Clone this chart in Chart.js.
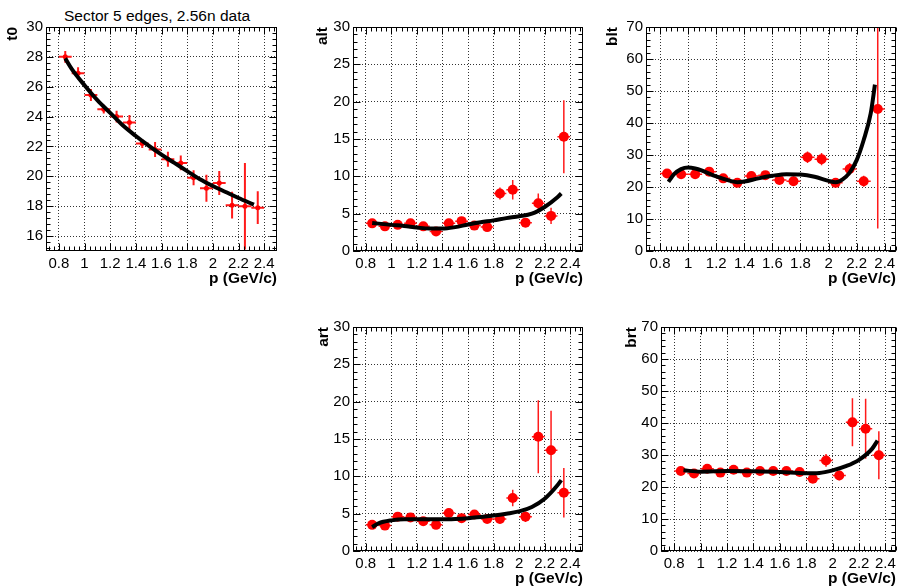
<!DOCTYPE html>
<html>
<head>
<meta charset="utf-8">
<title>Sector 5 edges</title>
<script src="https://cdn.jsdelivr.net/npm/chart.js@4"></script>
<style>
    body { margin: 0; background: #fff; }
    #canvasRoot { position: relative; width: 901px; height: 587px; overflow: hidden; background: #fff; }
    #canvasRoot canvas { position: absolute; }
    #mainTitle {
        position: absolute; left: 0; top: 8px; width: 314px; text-align: center;
        font: 15.5px/15.5px 'Liberation Sans', Arial, sans-serif; color: #000;
    }
</style>
</head>
<body>
<div id="canvasRoot">
    <div id="mainTitle">Sector 5 edges, 2.56n data</div>
    <canvas id="t0Chart"></canvas>
    <canvas id="altChart"></canvas>
    <canvas id="bltChart"></canvas>
    <canvas id="artChart"></canvas>
    <canvas id="brtChart"></canvas>
</div>
<script>
// momentum bin centres (GeV/c), bin half width 0.05
const momentum = [0.85, 0.95, 1.05, 1.15, 1.25, 1.35, 1.45, 1.55, 1.65, 1.75, 1.85, 1.95, 2.05, 2.15, 2.25, 2.35];
const binHalfWidth = 0.05;

const t0Values = [28.0, 26.9, 25.45, 24.5, 24.0, 23.6, 22.2, 21.8, 21.15, 20.9, 19.9, 19.2, 19.55, 18.07, 18.0, 17.9];
const t0Errors = [0.4, 0.4, 0.4, 0.3, 0.4, 0.5, 0.3, 0.5, 0.5, 0.5, 0.5, 0.9, 0.8, 0.9, 2.9, 1.1];
const altValues = [3.7, 3.3, 3.5, 3.7, 3.3, 2.6, 3.7, 4.0, 3.4, 3.2, 7.7, 8.2, 3.8, 6.4, 4.7, 15.3];
const altErrors = [0.4, 0.4, 0.4, 0.4, 0.4, 0.4, 0.4, 0.5, 0.5, 0.5, 0.8, 1.3, 0.6, 1.3, 1.1, 4.9];
const bltValues = [24.2, 24.0, 24.0, 24.8, 22.7, 21.3, 23.4, 23.7, 22.2, 21.8, 29.3, 28.7, 21.3, 25.6, 21.8, 44.4];
const bltErrors = [1.2, 1.2, 1.2, 1.2, 1.2, 1.2, 1.3, 1.3, 1.4, 1.5, 1.8, 1.9, 1.3, 1.9, 1.7, 37.4];
const artValues = [3.5, 3.4, 4.6, 4.5, 4.0, 3.5, 5.1, 4.4, 4.9, 4.3, 4.3, 7.1, 4.6, 15.3, 13.5, 7.8];
const artErrors = [0.4, 0.4, 0.4, 0.4, 0.4, 0.5, 0.5, 0.5, 0.5, 0.5, 0.6, 1.1, 0.7, 4.9, 5.3, 3.3];
const brtValues = [25.0, 24.2, 25.7, 24.5, 25.4, 24.5, 25.0, 25.0, 25.0, 24.7, 22.6, 28.3, 23.6, 40.2, 38.2, 29.9];
const brtErrors = [1.0, 1.0, 1.0, 1.0, 1.0, 1.0, 1.0, 1.0, 1.2, 1.2, 1.3, 2.0, 1.5, 7.5, 9.4, 7.5];

// fitted curves, sampled along p
const t0FitP = [0.85, 0.9, 1.0, 1.1, 1.2, 1.3, 1.4, 1.5, 1.6, 1.7, 1.8, 1.9, 2.0, 2.1, 2.2, 2.32];
const t0FitValues = [27.9, 27.2, 26.1, 25.1, 24.25, 23.4, 22.7, 22.05, 21.45, 20.9, 20.35, 19.8, 19.35, 18.95, 18.55, 18.1];
const altFitP = [0.85, 1.0, 1.1, 1.2, 1.3, 1.4, 1.5, 1.6, 1.7, 1.8, 1.9, 2.0, 2.1, 2.2, 2.3, 2.33];
const altFitValues = [3.75, 3.5, 3.35, 3.15, 3.0, 3.0, 3.2, 3.55, 3.85, 4.1, 4.4, 4.65, 5.0, 5.9, 7.2, 7.7];
const bltFitP = [0.86, 0.9, 0.95, 1.0, 1.05, 1.1, 1.2, 1.3, 1.35, 1.4, 1.5, 1.6, 1.7, 1.8, 1.9, 2.0, 2.05, 2.1, 2.15, 2.2, 2.25, 2.3, 2.33];
const bltFitValues = [21.6, 24.0, 25.6, 26.1, 25.8, 25.1, 23.3, 21.9, 21.5, 21.7, 22.7, 23.5, 24.0, 23.9, 23.2, 21.9, 21.5, 22.4, 24.5, 28.4, 34.7, 43.0, 52.0];
const artFitP = [0.85, 0.9, 1.0, 1.1, 1.2, 1.3, 1.4, 1.5, 1.6, 1.7, 1.8, 1.9, 2.0, 2.1, 2.2, 2.3, 2.33];
const artFitValues = [3.2, 3.7, 4.1, 4.25, 4.25, 4.25, 4.25, 4.3, 4.4, 4.55, 4.75, 5.0, 5.3, 5.9, 7.0, 8.8, 9.5];
const brtFitP = [0.87, 1.0, 1.2, 1.4, 1.6, 1.8, 1.9, 2.0, 2.1, 2.2, 2.3, 2.34];
const brtFitValues = [25.2, 24.8, 25.0, 24.9, 24.7, 24.3, 24.4, 25.2, 26.5, 28.5, 32.0, 34.5];

// axis labels
const pTicks = [0.8, 1.0, 1.2, 1.4, 1.6, 1.8, 2.0, 2.2, 2.4];
const t0Ticks = [16, 18, 20, 22, 24, 26, 28, 30];
const aTicks = [0, 5, 10, 15, 20, 25, 30];
const bTicks = [0, 10, 20, 30, 40, 50, 60, 70];

Chart.defaults.font.family = "'Liberation Sans', Arial, sans-serif";
Chart.defaults.color = '#000';

// frame with inward major/minor ticks on all four sides
const rootFrame = {
    id: 'rootFrame',
    afterDatasetsDraw(chart, args, opts) {
        const { ctx, chartArea: a, scales: { x, y } } = chart;
        const L = Math.round(a.left) + 0.5, R = Math.round(a.right) - 0.5;
        const T = Math.round(a.top) + 0.5, B = Math.round(a.bottom) - 0.5;
        ctx.save();
        ctx.strokeStyle = '#000';
        ctx.lineWidth = 1;
        ctx.beginPath();
        const isMajor = (v, list) => list.some(t => Math.abs(t - v) < 1e-6);
        const xStep = opts.xStep / 5;
        for (let k = Math.ceil(x.min / xStep - 1e-6); k * xStep <= x.max + 1e-9; k++) {
            const v = k * xStep;
            const px = Math.round(x.getPixelForValue(v)) + 0.5;
            const len = isMajor(v, opts.xMajor) ? 7 : 4;
            ctx.moveTo(px, B); ctx.lineTo(px, B - len);
            ctx.moveTo(px, T); ctx.lineTo(px, T + len);
        }
        const yStep = opts.yStep / 5;
        for (let k = Math.ceil(y.min / yStep - 1e-6); k * yStep <= y.max + 1e-9; k++) {
            const v = k * yStep;
            const py = Math.round(y.getPixelForValue(v)) + 0.5;
            const len = isMajor(v, opts.yMajor) ? 7 : 4;
            ctx.moveTo(L, py); ctx.lineTo(L + len, py);
            ctx.moveTo(R, py); ctx.lineTo(R - len, py);
        }
        ctx.stroke();
        ctx.strokeRect(L, T, R - L, B - T);
        ctx.restore();
    }
};

function errorBarData(xs, ys, errs) {
    const out = [];
    xs.forEach((x, i) => {
        out.push({ x: x, y: ys[i] - errs[i] }, { x: x, y: ys[i] + errs[i] }, { x: x, y: null });
        out.push({ x: x - binHalfWidth, y: ys[i] }, { x: x + binHalfWidth, y: ys[i] }, { x: x, y: null });
    });
    return out;
}

function toPoints(xs, ys) {
    return xs.map((x, i) => ({ x: x, y: ys[i] }));
}

function makePanel(p) {
    const canvas = document.getElementById(p.id);
    canvas.width = p.w;
    canvas.height = p.h;
    canvas.style.left = p.left + 'px';
    canvas.style.top = p.top + 'px';
    const label = v => String(Math.round(v * 100) / 100);

    return new Chart(canvas.getContext('2d'), {
        type: 'line',
        data: {
            datasets: [
                {
                    data: toPoints(p.fitX, p.fitY),
                    borderColor: '#000',
                    borderWidth: 4,
                    pointRadius: 0,
                    cubicInterpolationMode: 'monotone',
                    order: 0
                },
                {
                    data: toPoints(momentum, p.values),
                    showLine: false,
                    pointRadius: p.markerRadius,
                    pointBackgroundColor: '#ff0000',
                    pointBorderWidth: 0,
                    order: 1
                },
                {
                    data: errorBarData(momentum, p.values, p.errors),
                    borderColor: '#ff1a1a',
                    borderWidth: p.barWidth,
                    pointRadius: 0,
                    spanGaps: false,
                    order: 2
                }
            ]
        },
        options: {
            responsive: false,
            animation: false,
            events: [],
            layout: { padding: { left: 0, top: 27, right: p.padRight, bottom: 0 } },
            plugins: {
                legend: { display: false },
                tooltip: { enabled: false },
                rootFrame: { xStep: 0.2, xMajor: pTicks, yStep: p.yTicks[1] - p.yTicks[0], yMajor: p.yTicks }
            },
            scales: {
                x: {
                    type: 'linear',
                    min: 0.7,
                    max: p.xMax,
                    afterBuildTicks: s => { s.ticks = pTicks.map(v => ({ value: v })); },
                    afterFit: s => { s.height = p.xAxisHeight; s.paddingLeft = 0; s.paddingRight = 0; },
                    ticks: { autoSkip: false, maxRotation: 0, minRotation: 0, padding: 4, font: { size: 15 }, callback: label },
                    grid: { color: '#333', lineWidth: 1, drawTicks: false },
                    border: { display: false, dash: [1, 2] },
                    title: {
                        display: true, text: 'p (GeV/c)', align: 'end',
                        font: { size: 15.5, weight: 'bold' }, padding: { top: 4, bottom: 4 }
                    }
                },
                y: {
                    min: p.yMin,
                    max: p.yMax,
                    afterBuildTicks: s => { s.ticks = p.yTicks.map(v => ({ value: v })); },
                    afterFit: s => { s.width = p.yAxisWidth; s.paddingTop = 0; s.paddingBottom = 0; },
                    ticks: { autoSkip: false, padding: 3, font: { size: 15 }, callback: label },
                    grid: { color: '#333', lineWidth: 1, drawTicks: false },
                    border: { display: false, dash: [1, 2] },
                    title: {
                        display: true, text: p.name, align: 'end',
                        font: { size: 15.5, weight: 'bold' }, padding: { top: 3, bottom: 4 }
                    }
                }
            }
        },
        plugins: [rootFrame]
    });
}

const rowHeight = 292;

makePanel({ id: 't0Chart', name: 't0', left: 0, top: 0, w: 300, h: rowHeight,
    yAxisWidth: 46, padRight: 23, xAxisHeight: 41, xMax: 2.5,
    yMin: 15, yMax: 30, yTicks: t0Ticks, values: t0Values, errors: t0Errors,
    fitX: t0FitP, fitY: t0FitValues, markerRadius: 2.5, barWidth: 2 });

makePanel({ id: 'altChart', name: 'alt', left: 310, top: 0, w: 290, h: rowHeight,
    yAxisWidth: 43, padRight: 17, xAxisHeight: 41, xMax: 2.5,
    yMin: 0, yMax: 30, yTicks: aTicks, values: altValues, errors: altErrors,
    fitX: altFitP, fitY: altFitValues, markerRadius: 5, barWidth: 1.5 });

makePanel({ id: 'bltChart', name: 'blt', left: 600, top: 0, w: 301, h: rowHeight,
    yAxisWidth: 46, padRight: 4, xAxisHeight: 41, xMax: 2.48,
    yMin: 0, yMax: 70, yTicks: bTicks, values: bltValues, errors: bltErrors,
    fitX: bltFitP, fitY: bltFitValues, markerRadius: 5, barWidth: 1.5 });

makePanel({ id: 'artChart', name: 'art', left: 311, top: 300, w: 289, h: rowHeight,
    yAxisWidth: 42, padRight: 17, xAxisHeight: 41, xMax: 2.5,
    yMin: 0, yMax: 30, yTicks: aTicks, values: artValues, errors: artErrors,
    fitX: artFitP, fitY: artFitValues, markerRadius: 5, barWidth: 1.5 });

makePanel({ id: 'brtChart', name: 'brt', left: 619, top: 300, w: 282, h: rowHeight,
    yAxisWidth: 42, padRight: 4, xAxisHeight: 41, xMax: 2.48,
    yMin: 0, yMax: 70, yTicks: bTicks, values: brtValues, errors: brtErrors,
    fitX: brtFitP, fitY: brtFitValues, markerRadius: 5, barWidth: 1.5 });
</script>
</body>
</html>
